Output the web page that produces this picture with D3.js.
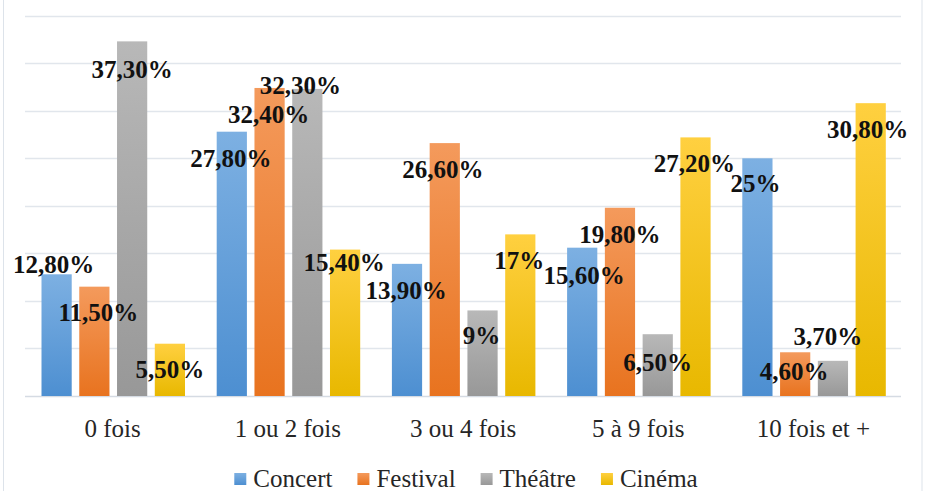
<!DOCTYPE html>
<html><head><meta charset="utf-8">
<script src="https://cdn.jsdelivr.net/npm/d3@7"></script>
<style>html,body{margin:0;padding:0;background:#fff;}svg{display:block;}
.serif{font-family:"Liberation Serif","Tinos","Times New Roman","DejaVu Serif",serif;}
</style>
</head><body>
<svg id="chart" width="927" height="491"></svg>
<script>
const categories = ["0 fois", "1 ou 2 fois", "3 ou 4 fois", "5 à 9 fois", "10 fois et +"];
const seriesNames = ["Concert", "Festival", "Théâtre", "Cinéma"];
const concert  = [12.8, 27.8, 13.9, 15.6, 25];
const festival = [11.5, 32.4, 26.6, 19.8, 4.6];
const theatre  = [37.3, 32.3, 9, 6.5, 3.7];
const cinema   = [5.5, 15.4, 17, 27.2, 30.8];
const yTicks = [0, 5, 10, 15, 20, 25, 30, 35, 40];

// layout-only: label nudges [dx, dy] per series per category
const labelNudge = [
  [[-3,-1],[-1,35],[-1,35],[2,36],[-2,34]],
  [[4,34],[-1,35],[-2,35],[0,35],[-1,28]],
  [[0,37],[-7,5],[-1,34],[0,37],[-5,-16]],
  [[0,34],[-1,21],[-1,35],[-1,35],[-3,35]]
];

const seriesValues = [concert, festival, theatre, cinema];
const colorsTop = ["#7db0e2", "#f49a5c", "#b8b8b8", "#ffd040"];
const colorsBot = ["#4d8fd1", "#e8731f", "#989898", "#e8b800"];

const svg = d3.select("#chart");
const W = 927, H = 491;
const plot = {left: 25, right: 901, top: 15.7, bottom: 396};

// border
svg.append("rect").attr("x", 3.5).attr("y", -2).attr("width", 918.5).attr("height", H + 4)
  .attr("fill", "none").attr("stroke", "#dde3ea").attr("stroke-width", 1);

const defs = svg.append("defs");
seriesNames.forEach((s, i) => {
  const g = defs.append("linearGradient").attr("id", "grad" + i)
    .attr("x1", 0).attr("y1", 0).attr("x2", 0).attr("y2", 1);
  g.append("stop").attr("offset", "0%").attr("stop-color", colorsTop[i]);
  g.append("stop").attr("offset", "100%").attr("stop-color", colorsBot[i]);
});

const y = d3.scaleLinear().domain([0, 40]).range([plot.bottom, plot.top]);
const x0 = d3.scaleBand().domain(categories).range([plot.left, plot.right]).padding(0);
const x1 = d3.scaleBand().domain(seriesNames).range([16.5, 160]).paddingInner(0.2).paddingOuter(0);

// gridlines
svg.append("g").selectAll("line").data(yTicks).join("line")
  .attr("x1", plot.left).attr("x2", plot.right)
  .attr("y1", d => Math.round(y(d)) + 0.5).attr("y2", d => Math.round(y(d)) + 0.5)
  .attr("stroke", d => d === 0 ? "#d5dbe3" : "#e1e6ec").attr("stroke-width", 1.5);

// bars
const groups = svg.append("g").selectAll("g").data(categories).join("g")
  .attr("transform", c => `translate(${x0(c)},0)`);

groups.selectAll("rect").data((c, ci) => seriesNames.map((s, si) => ({s, si, ci, v: seriesValues[si][ci]})))
  .join("rect")
  .attr("x", d => x1(d.s)).attr("width", x1.bandwidth())
  .attr("y", d => y(d.v)).attr("height", d => y(0) - y(d.v))
  .attr("fill", d => `url(#grad${d.si})`);

const fmt = v => Number.isInteger(v) ? v + "%" : v.toFixed(2).replace(".", ",") + "%";

// data labels
groups.selectAll("text.lbl").data((c, ci) => seriesNames.map((s, si) => ({s, si, ci, v: seriesValues[si][ci]})))
  .join("text").attr("class", "lbl serif")
  .attr("x", d => x1(d.s) + x1.bandwidth() / 2 + labelNudge[d.si][d.ci][0])
  .attr("y", d => y(d.v) + labelNudge[d.si][d.ci][1])
  .attr("text-anchor", "middle")
  .attr("font-weight", "bold").attr("font-size", 25).attr("fill", "#111")
  .text(d => fmt(d.v));

// x axis labels
const xAxis = d3.axisBottom(x0).tickSize(0).tickPadding(0);
const ax = svg.append("g").attr("transform", `translate(0,${plot.bottom})`).call(xAxis);
ax.attr("font-family", null);
ax.select(".domain").remove();
ax.selectAll("text")
  .attr("class", "serif")
  .attr("dy", null).attr("y", 41)
  .attr("font-size", 25).attr("fill", "#262626");

// legend
const leg = svg.append("g");
const items = [];
seriesNames.forEach((s, i) => {
  const g = leg.append("g");
  g.append("rect").attr("x", 0).attr("y", -14).attr("width", 12).attr("height", 12)
    .attr("fill", `url(#grad${i})`);
  const t = g.append("text").attr("class", "serif").attr("x", 19).attr("y", 0)
    .attr("font-size", 25).attr("fill", "#262626").text(s);
  const w = 19 + t.node().getComputedTextLength();
  items.push({g, w});
});
const gap = 25;
const total = d3.sum(items, d => d.w) + gap * (items.length - 1);
let start = (plot.left + plot.right) / 2 + 3 - total / 2;
items.forEach(it => { it.g.attr("transform", `translate(${start},487)`); start += it.w + gap; });
</script>
</body></html>
